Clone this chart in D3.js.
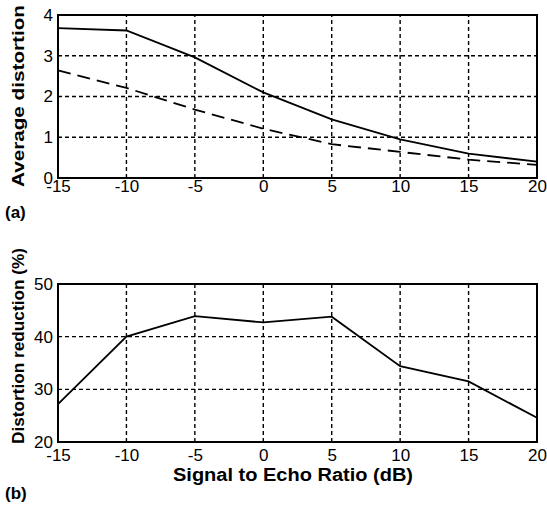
<!DOCTYPE html>
<html>
<head>
<meta charset="utf-8">
<script src="https://cdn.jsdelivr.net/npm/d3@7"></script>
<style>
  html, body { margin: 0; padding: 0; background: #fff; }
  svg { display: block; }
  text { font-family: "Liberation Sans", Arial, sans-serif; fill: #000; }
</style>
</head>
<body>
<svg id="chart" width="547" height="511"></svg>
<script>
// Signal-to-echo ratio (dB) sampled for both panels
const snr = [-15, -10, -5, 0, 5, 10, 15, 20];
// Panel (a): average distortion, solid and dashed curves
const distortionSolid = [3.68, 3.62, 2.96, 2.1, 1.44, 0.95, 0.6, 0.4];
const distortionDashed = [2.64, 2.21, 1.68, 1.21, 0.83, 0.64, 0.45, 0.32];
// Panel (b): distortion reduction in percent
const reduction = [27.2, 40, 43.9, 42.7, 43.8, 34.4, 31.5, 24.6];

const xTicks = [-15, -10, -5, 0, 5, 10, 15, 20];
const yTicksA = [0, 1, 2, 3, 4];
const yTicksB = [20, 30, 40, 50];

const svg = d3.select("#chart");

const x = d3.scaleLinear().domain([-15, 20]).range([58, 537]);
const yA = d3.scaleLinear().domain([0, 4]).range([178, 15]);
const yB = d3.scaleLinear().domain([20, 50]).range([442, 284]);

// plain integers with an ASCII hyphen for negatives
const fmt = d => String(d);

function panel(y, yTicks, xPad, series) {
  const g = svg.append("g");
  const [y0, y1] = y.range();

  // dotted grid
  g.append("g").selectAll("line")
    .data(xTicks.slice(1, -1)).join("line")
    .attr("x1", d => x(d)).attr("x2", d => x(d))
    .attr("y1", y0).attr("y2", y1)
    .attr("stroke", "#000").attr("stroke-width", 1.4)
    .attr("stroke-dasharray", "4,3");
  g.append("g").selectAll("line")
    .data(yTicks.slice(1, -1)).join("line")
    .attr("x1", x.range()[0]).attr("x2", x.range()[1])
    .attr("y1", d => y(d)).attr("y2", d => y(d))
    .attr("stroke", "#000").attr("stroke-width", 1.4)
    .attr("stroke-dasharray", "4,3");

  // data curves
  series.forEach(s => {
    g.append("path")
      .datum(s.values)
      .attr("fill", "none")
      .attr("stroke", "#000")
      .attr("stroke-width", 1.8)
      .attr("stroke-dasharray", s.dash || null)
      .attr("d", d3.line().x((d, i) => x(snr[i])).y(d => y(d)));
  });

  // frame
  g.append("rect")
    .attr("x", x.range()[0]).attr("y", y1)
    .attr("width", x.range()[1] - x.range()[0])
    .attr("height", y0 - y1)
    .attr("fill", "none").attr("stroke", "#000").attr("stroke-width", 2);

  // axes (labels only)
  const xa = g.append("g").attr("transform", `translate(0,${y0})`)
    .call(d3.axisBottom(x).tickValues(xTicks).tickFormat(fmt).tickSize(0).tickPadding(xPad));
  const ya = g.append("g").attr("transform", `translate(${x.range()[0]},0)`)
    .call(d3.axisLeft(y).tickValues(yTicks).tickFormat(fmt).tickSize(0).tickPadding(5));
  [xa, ya].forEach(a => {
    a.select(".domain").remove();
    a.selectAll("text")
      .style("font-family", "'Liberation Sans', Arial, sans-serif")
      .style("font-size", "17px")
      .attr("fill", "#000");
  });
  return g;
}

panel(yA, yTicksA, 2, [
  { values: distortionSolid },
  { values: distortionDashed, dash: "13,7" }
]);
panel(yB, yTicksB, 7, [
  { values: reduction }
]);

// titles
function vTitle(label, cx, cy, len) {
  svg.append("text")
    .attr("transform", `translate(${cx},${cy}) rotate(-90)`)
    .attr("text-anchor", "middle")
    .attr("dominant-baseline", "central")
    .attr("textLength", len)
    .attr("lengthAdjust", "spacingAndGlyphs")
    .style("font-size", "17px").style("font-weight", "bold")
    .text(label);
}
vTitle("Average distortion", 18, 96, 182);
vTitle("Distortion reduction (%)", 18, 346, 196);

svg.append("text")
  .attr("x", 293).attr("y", 481)
  .attr("text-anchor", "middle")
  .attr("textLength", 240)
  .attr("lengthAdjust", "spacingAndGlyphs")
  .style("font-size", "18px").style("font-weight", "bold")
  .text("Signal to Echo Ratio (dB)");

svg.append("text").attr("x", 5).attr("y", 218)
  .style("font-size", "17px").style("font-weight", "bold").text("(a)");
svg.append("text").attr("x", 5).attr("y", 499)
  .style("font-size", "17px").style("font-weight", "bold").text("(b)");
</script>
</body>
</html>
